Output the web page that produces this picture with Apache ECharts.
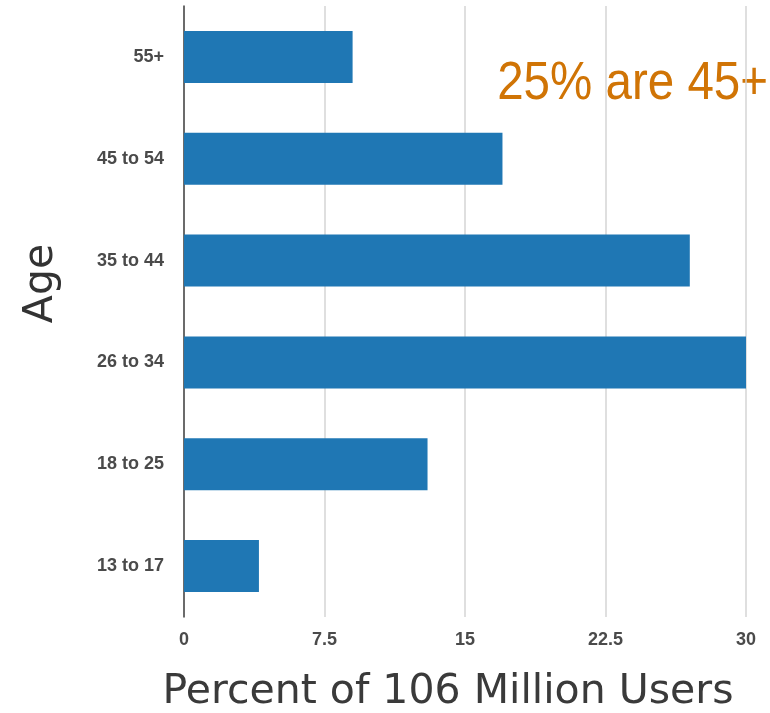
<!DOCTYPE html>
<html>
<head>
<meta charset="utf-8">
<script src="https://cdn.jsdelivr.net/npm/echarts@6/dist/echarts.min.js"></script>
<style>
  html, body { margin: 0; padding: 0; background: #fff; }
  #chart { width: 770px; height: 713px; }
</style>
</head>
<body>
<div id="chart"></div>
<script>
let ageGroups = ['13 to 17', '18 to 25', '26 to 34', '35 to 44', '45 to 54', '55+'];
let userPercent = [4, 13, 30, 27, 17, 9];
let xTicks = [0, 7.5, 15, 22.5, 30];

let chart = echarts.init(document.getElementById('chart'));

let option = {
    animation: false,
    grid: {
        left: 184,
        right: 24,
        top: 6,
        bottom: 96,
        outerBoundsMode: 'none'
    },
    xAxis: {
        type: 'value',
        min: xTicks[0],
        max: xTicks[xTicks.length - 1],
        interval: 7.5,
        name: 'Percent of 106 Million Users',
        nameLocation: 'middle',
        nameGap: 55,
        nameTextStyle: {
            fontFamily: 'DejaVu Sans',
            fontSize: 41,
            color: '#3a3a3a',
            padding: [0, 34, 0, 0]
        },
        axisLine: { show: false },
        axisTick: { show: false },
        axisLabel: {
            margin: 14,
            fontFamily: 'Liberation Sans',
            fontSize: 18,
            fontWeight: 'bold',
            color: '#4a4a4a',
            formatter: function (v) { return String(v); }
        },
        splitLine: {
            lineStyle: { color: '#d4d4d4', width: 1.5 }
        }
    },
    yAxis: {
        type: 'category',
        data: ageGroups,
        name: 'Age',
        nameLocation: 'middle',
        nameGap: 122,
        nameTextStyle: {
            fontFamily: 'DejaVu Sans',
            fontSize: 41,
            color: '#333',
            padding: [0, 0, 0, 56]
        },
        axisLine: {
            lineStyle: { color: '#444', width: 1.5 }
        },
        axisTick: { show: false },
        axisLabel: {
            margin: 20,
            fontFamily: 'Liberation Sans',
            fontSize: 18,
            fontWeight: 'bold',
            color: '#4a4a4a'
        }
    },
    series: [{
        type: 'bar',
        data: userPercent,
        barWidth: '51%',
        itemStyle: { color: '#1f77b4' }
    }],
    graphic: [{
        type: 'text',
        x: 768,
        y: 84,
        scaleX: 0.88,
        style: {
            text: '25% are 45+',
            fontFamily: 'Liberation Sans',
            fontSize: 54,
            fill: '#d07405',
            align: 'right',
            verticalAlign: 'middle'
        }
    }]
};

chart.setOption(option);
</script>
</body>
</html>
